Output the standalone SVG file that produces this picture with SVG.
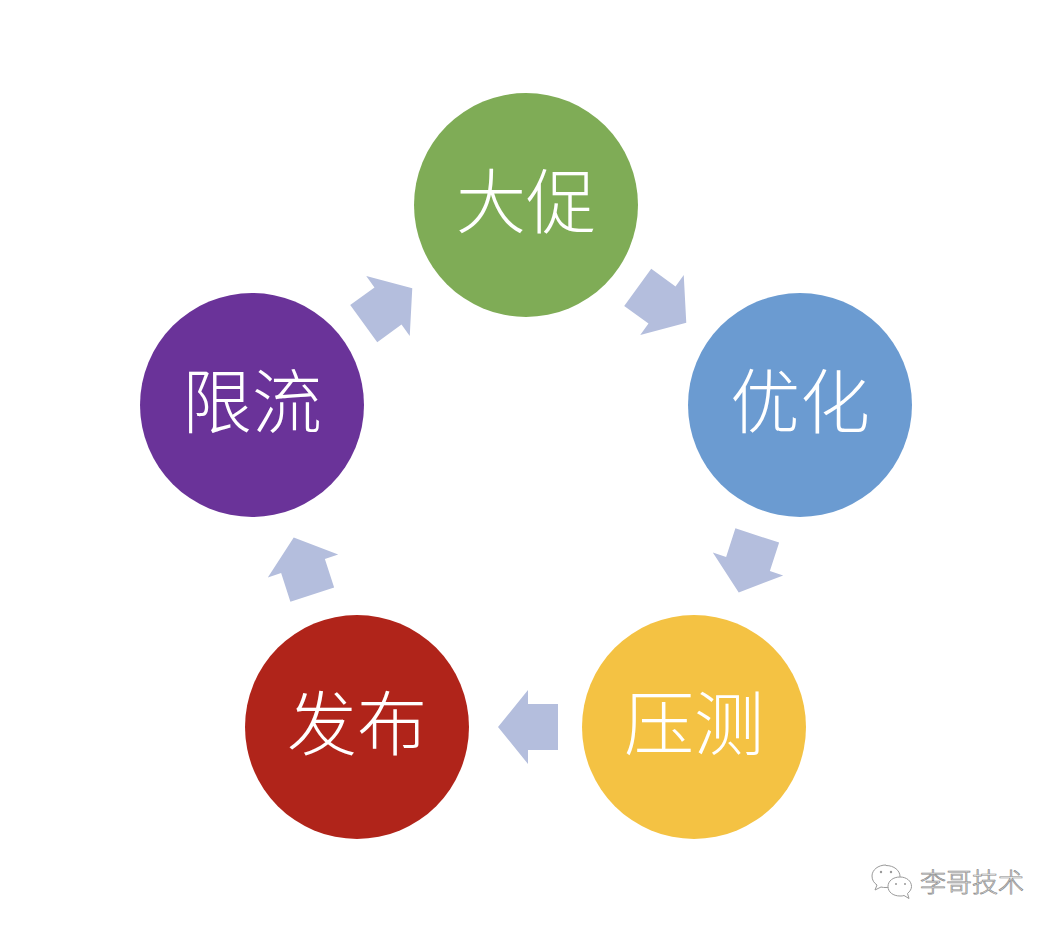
<svg xmlns="http://www.w3.org/2000/svg" width="1060" height="930" viewBox="0 0 1060 930">
<style>
.lbl{font-family:"Noto Sans CJK SC","Noto Sans",sans-serif;font-size:70px;font-weight:300;fill:#ffffff;text-anchor:middle;dominant-baseline:central}
.arr{fill:#B4BEDD}
.wm{font-family:"Noto Sans CJK SC",sans-serif;font-size:26px;font-weight:300;fill:#f4f4f4;stroke:#8a8a8a;stroke-width:0.7}
.ic{fill:#fff;stroke:#9a9a9a;stroke-width:1}
</style>
<defs>
<polygon id="arrow" points="-30,-23 0,-23 0,-37 30,0 0,37 0,23 -30,23"/>
</defs>
<rect width="1060" height="930" fill="#ffffff"/>
<g id="connectors">
<use href="#arrow" class="arr" transform="translate(662,305) rotate(36)"/>
<use href="#arrow" class="arr" transform="translate(748,564) rotate(108)"/>
<use href="#arrow" class="arr" transform="translate(528,727) rotate(180)"/>
<use href="#arrow" class="arr" transform="translate(303,566) rotate(252)"/>
<use href="#arrow" class="arr" transform="translate(388,306) rotate(-36)"/>
</g>
<g id="node-dacu">
<circle cx="526" cy="205" r="112" fill="#7FAC56"/>
<text class="lbl" x="526" y="197">大促</text>
</g>
<g id="node-youhua">
<circle cx="800" cy="405" r="112" fill="#6B9BD1"/>
<text class="lbl" x="800" y="397">优化</text>
</g>
<g id="node-yace">
<circle cx="694" cy="727" r="112" fill="#F4C243"/>
<text class="lbl" x="694" y="719">压测</text>
</g>
<g id="node-fabu">
<circle cx="357" cy="727" r="112" fill="#B0241A"/>
<text class="lbl" x="357" y="719">发布</text>
</g>
<g id="node-xianliu">
<circle cx="252" cy="405" r="112" fill="#6A3399"/>
<text class="lbl" x="252" y="397">限流</text>
</g>
<g id="watermark">
<path class="ic" d="M886,865 c-8,0 -14,5 -14,11 c0,4 2,7 5,9 l-2,5 l6,-3 c2,0.5 3,0.5 5,0.5 c8,0 14,-5 14,-11 c0,-6 -6,-11 -14,-11z"/>
<path class="ic" d="M900,877 c-7,0 -12,4 -12,9.5 c0,5.5 5,9.5 12,9.5 c1.5,0 3,0 4,-0.5 l5,3 l-1.5,-5 c2.5,-2 4,-4.5 4,-7 c0,-5.5 -5,-9.5 -11.5,-9.5z"/>
<circle cx="881" cy="872" r="1.2" fill="#999"/>
<circle cx="891" cy="872" r="1.2" fill="#999"/>
<circle cx="896" cy="884" r="1" fill="#999"/>
<circle cx="905" cy="884" r="1" fill="#999"/>
<text class="wm" x="920" y="892">李哥技术</text>
</g>
</svg>
